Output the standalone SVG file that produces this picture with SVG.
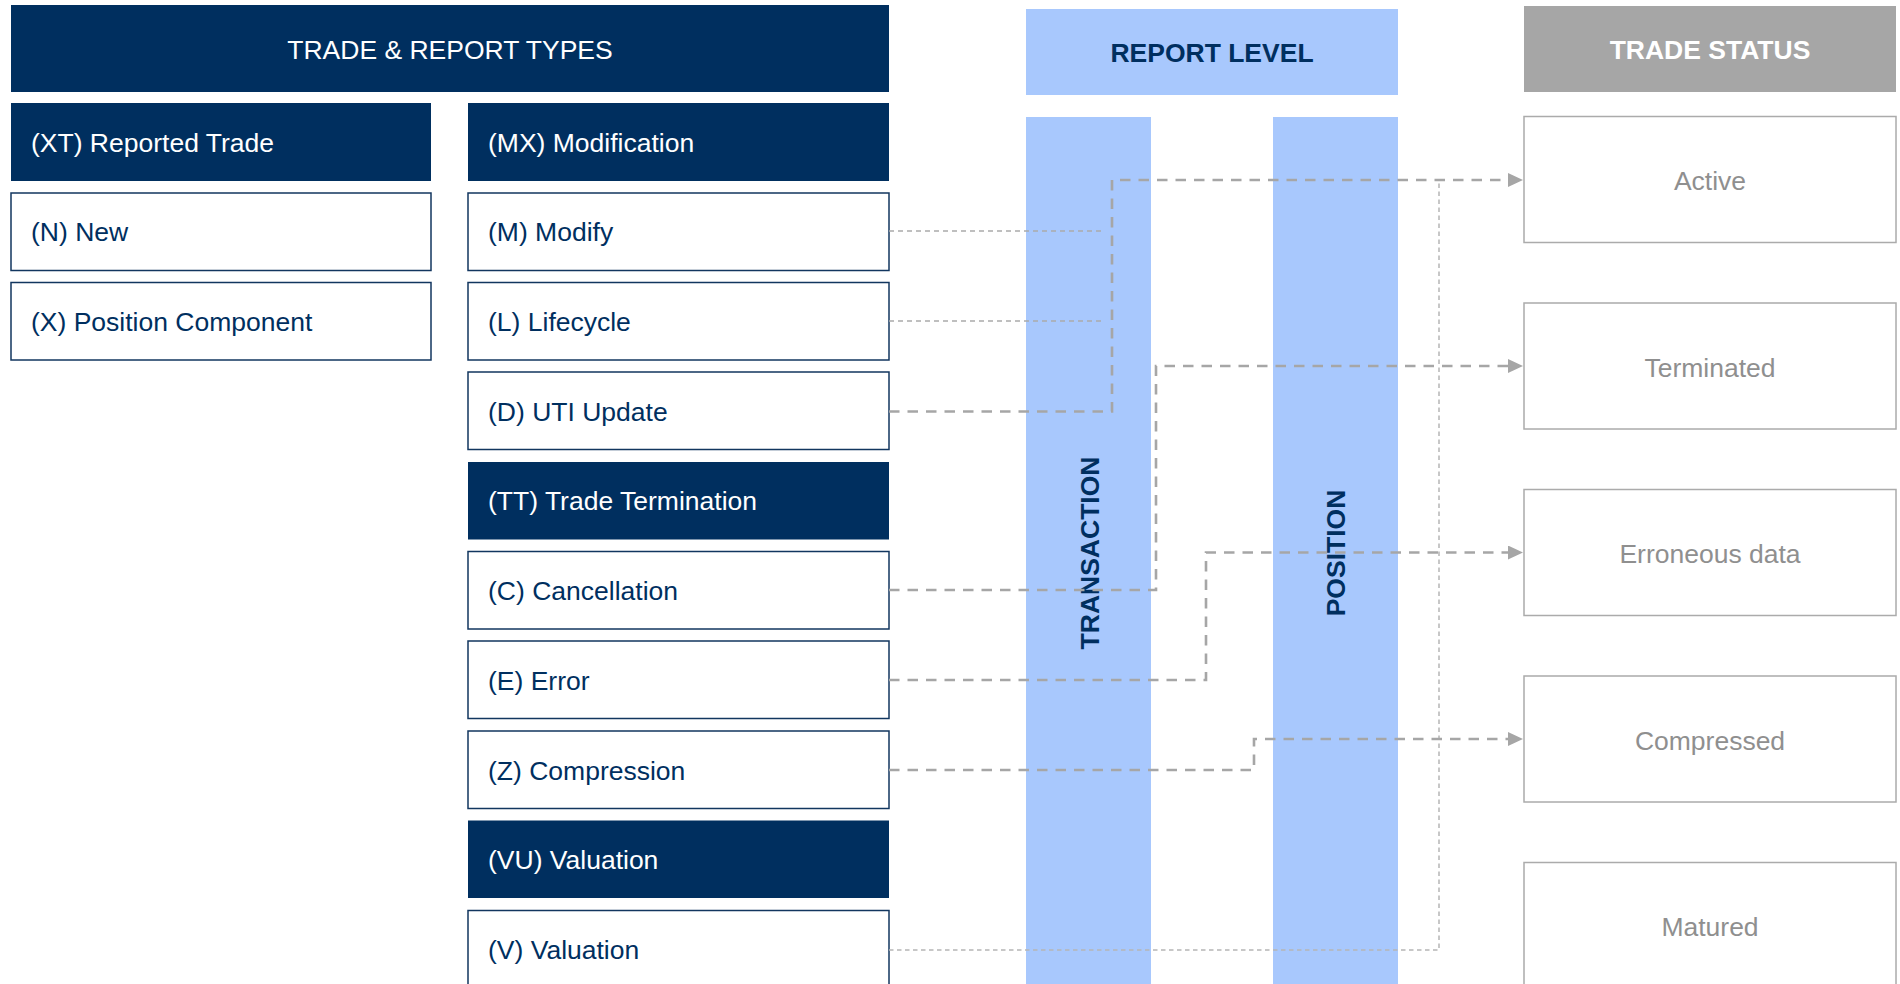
<svg xmlns="http://www.w3.org/2000/svg" width="1900" height="984" viewBox="0 0 1900 984">
<defs>
<style>
.hdr{fill:#002F5F}
.item{fill:#FFFFFF;stroke:#12365F;stroke-width:1.5}
.stat{fill:#FFFFFF;stroke:#ABABAB;stroke-width:1.5}
.bar{fill:#A8C8FD}
.t{font-family:"Liberation Sans",Arial,sans-serif;font-size:26.5px}
.tw{fill:#FFFFFF}
.tn{fill:#002F5F}
.tg{fill:#8F8F8F}
.b{font-weight:bold}
.thick{fill:none;stroke:#A6A6A6;stroke-width:2.6;stroke-dasharray:10.5 8}
.thin{fill:none;stroke:#ABABAB;stroke-width:1.3;stroke-dasharray:5 4}
.val{fill:none;stroke:#B5B5B5;stroke-width:1.5;stroke-dasharray:4.5 3.5}
</style>
<marker id="arr" markerUnits="userSpaceOnUse" markerWidth="16" markerHeight="14" refX="0" refY="7" orient="auto">
<path d="M0,0 L15,7 L0,14 z" fill="#A6A6A6"/>
</marker>
</defs>
<rect width="1900" height="984" fill="#FFFFFF"/>

<g id="title">
<rect class="hdr" x="11" y="5" width="878" height="87"/>
<text class="t tw" x="450" y="59" text-anchor="middle">TRADE &amp; REPORT TYPES</text>
</g>
<g id="report-level">
<rect class="bar" x="1026" y="9" width="372" height="86"/>
<text class="t tn b" x="1212" y="62" text-anchor="middle">REPORT LEVEL</text>
</g>
<g id="trade-status">
<rect x="1524" y="6" width="372" height="86" fill="#A6A6A6"/>
<text class="t tw b" x="1710" y="59" text-anchor="middle">TRADE STATUS</text>
</g>

<g id="transaction">
<rect class="bar" x="1026" y="117" width="125" height="867"/>
<text class="t tn b" x="0" y="0" text-anchor="middle" font-size="27" transform="translate(1099,553) rotate(-90)">TRANSACTION</text>
</g>
<g id="position">
<rect class="bar" x="1273" y="117" width="125" height="867"/>
<text class="t tn b" x="0" y="0" text-anchor="middle" font-size="27" transform="translate(1345,553) rotate(-90)">POSITION</text>
</g>

<g id="xt">
<rect class="hdr" x="11" y="103" width="420" height="78"/>
<text class="t tw" x="31" y="151.5">(XT) Reported Trade</text>
</g>
<g id="n">
<rect class="item" x="11" y="193" width="420" height="77.5"/>
<text class="t tn" x="31" y="241">(N) New</text>
</g>
<g id="x">
<rect class="item" x="11" y="282.5" width="420" height="77.5"/>
<text class="t tn" x="31" y="331">(X) Position Component</text>
</g>

<g id="mx">
<rect class="hdr" x="468" y="103" width="421" height="78"/>
<text class="t tw" x="488" y="151.5">(MX) Modification</text>
</g>
<g id="m">
<rect class="item" x="468" y="193" width="421" height="77.5"/>
<text class="t tn" x="488" y="241">(M) Modify</text>
</g>
<g id="l">
<rect class="item" x="468" y="282.5" width="421" height="77.5"/>
<text class="t tn" x="488" y="331">(L) Lifecycle</text>
</g>
<g id="d">
<rect class="item" x="468" y="372" width="421" height="77.5"/>
<text class="t tn" x="488" y="420.5">(D) UTI Update</text>
</g>
<g id="tt">
<rect class="hdr" x="468" y="462" width="421" height="77.5"/>
<text class="t tw" x="488" y="510">(TT) Trade Termination</text>
</g>
<g id="c">
<rect class="item" x="468" y="551.5" width="421" height="77.5"/>
<text class="t tn" x="488" y="600">(C) Cancellation</text>
</g>
<g id="e">
<rect class="item" x="468" y="641" width="421" height="77.5"/>
<text class="t tn" x="488" y="689.5">(E) Error</text>
</g>
<g id="z">
<rect class="item" x="468" y="731" width="421" height="77.5"/>
<text class="t tn" x="488" y="779.5">(Z) Compression</text>
</g>
<g id="vu">
<rect class="hdr" x="468" y="820.5" width="421" height="77.5"/>
<text class="t tw" x="488" y="869">(VU) Valuation</text>
</g>
<g id="v">
<rect class="item" x="468" y="910.5" width="421" height="77.5"/>
<text class="t tn" x="488" y="959">(V) Valuation</text>
</g>

<g id="active">
<rect class="stat" x="1524" y="116.5" width="372" height="126"/>
<text class="t tg" x="1710" y="190" text-anchor="middle">Active</text>
</g>
<g id="terminated">
<rect class="stat" x="1524" y="303" width="372" height="126"/>
<text class="t tg" x="1710" y="376.5" text-anchor="middle">Terminated</text>
</g>
<g id="erroneous">
<rect class="stat" x="1524" y="489.5" width="372" height="126"/>
<text class="t tg" x="1710" y="563" text-anchor="middle">Erroneous data</text>
</g>
<g id="compressed">
<rect class="stat" x="1524" y="676" width="372" height="126"/>
<text class="t tg" x="1710" y="749.5" text-anchor="middle">Compressed</text>
</g>
<g id="matured">
<rect class="stat" x="1524" y="862.5" width="372" height="126"/>
<text class="t tg" x="1710" y="936" text-anchor="middle">Matured</text>
</g>

<g id="connectors">
<path class="thin" d="M889,231 H1104"/>
<path class="thin" d="M889,321 H1104"/>
<path class="val" d="M889,950 H1439 V180"/>
<path class="thick" d="M889,411.5 H1112 V180 H1508" marker-end="url(#arr)"/>
<path class="thick" d="M889,590 H1156 V366 H1508" marker-end="url(#arr)"/>
<path class="thick" d="M889,680 H1206 V552.5 H1508" marker-end="url(#arr)"/>
<path class="thick" d="M889,770 H1254 V739 H1508" marker-end="url(#arr)"/>
</g>
</svg>
